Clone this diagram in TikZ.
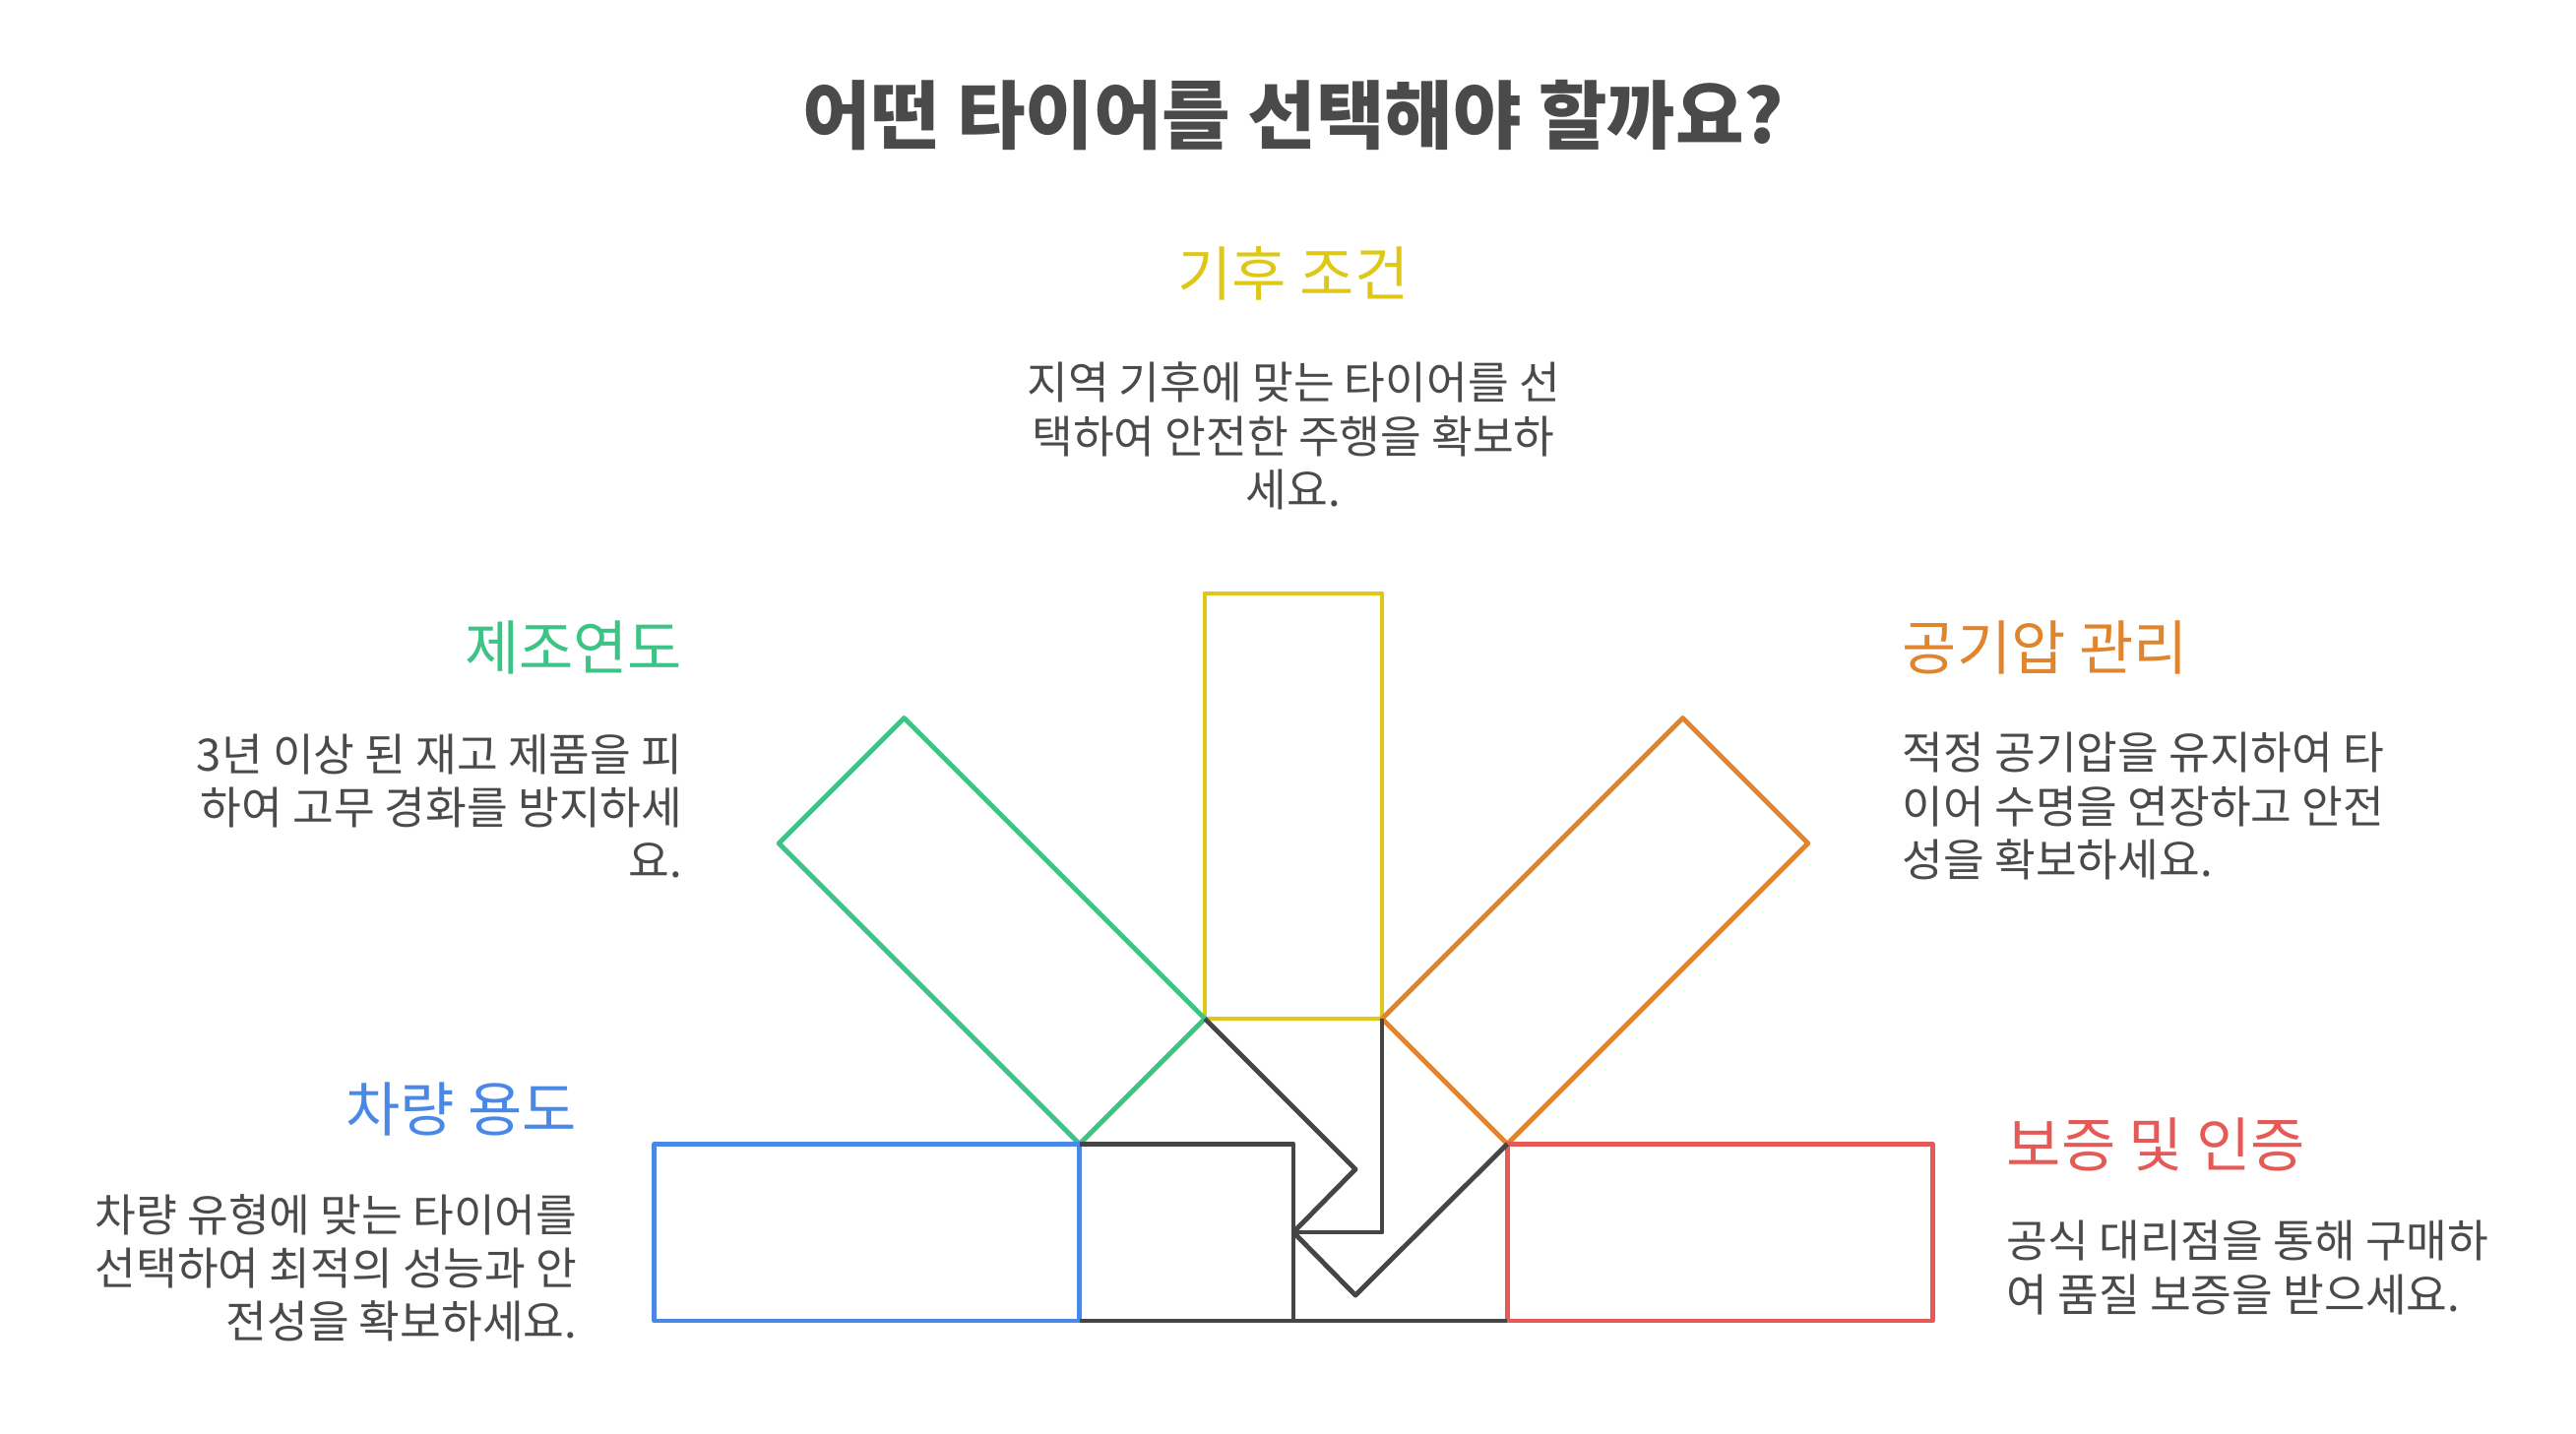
\documentclass[tikz,border=0pt]{standalone}
\usepackage{fontspec}
\setmainfont{Noto Sans CJK KR}
\usepackage{tikz}
\definecolor{inkgray}{HTML}{4A4A4A}
\definecolor{linegray}{HTML}{454545}
\definecolor{climateC}{HTML}{DEC815}
\definecolor{yearC}{HTML}{3DC385}
\definecolor{pressureC}{HTML}{E0842E}
\definecolor{usageC}{HTML}{4A88E6}
\definecolor{warrantyC}{HTML}{E55A57}
\newcommand{\headfont}{\fontsize{17.1}{21}\selectfont}
\newcommand{\bodyfont}{\fontsize{12.9}{15.4}\selectfont}

\begin{document}
\begin{tikzpicture}[x=0.01cm, y=-0.01cm,
    heading/.style={font=\headfont, inner sep=0pt},
    body/.style={font=\bodyfont, text=inkgray, inner sep=0pt},
    box/.style={line width=1.4pt, line join=round},
    link/.style={line width=1.4pt, draw=linegray, line join=round}]
    \useasboundingbox (0,0) rectangle (2617,1456);

    \node (title) [font=\fontsize{21.5}{26}\selectfont\bfseries, text=inkgray] at (1314,117)
        {어떤 타이어를 선택해야 할까요?};

    \coordinate (A) at (1224,1035);
    \coordinate (E) at (1404,1035);
    \coordinate (B) at (1096.7,1162.3);
    \coordinate (F) at (1531.3,1162.3);
    \coordinate (P) at (1314,1252);

    \draw[box, draw=climateC] (1224,603) rectangle (E);
    \draw[box, draw=yearC] (A) -- (B) -- (791.2,856.8) -- (918.5,729.5) -- cycle;
    \draw[box, draw=pressureC] (E) -- (F) -- (1836.8,856.8) -- (1709.5,729.5) -- cycle;
    \draw[box, draw=usageC] (664.7,1162.3) rectangle (1096.7,1342);
    \draw[box, draw=warrantyC] (F) rectangle (1963.3,1342);

    \draw[link] (B) -- (1314,1162.3) -- (1314,1342);
    \draw[link] (1096.7,1342) -- (F |- 0,1342);
    \draw[link] (A) -- (1377,1188) -- (P);
    \draw[link] (E) -- (E |- P) -- (P);
    \draw[link] (P) -- (1377,1316) -- (F);

    \node (climate) [heading, text=climateC] at (1314,278) {기후 조건};
    \node (climateText) [body, align=center] at (1314,443)
        {지역 기후에 맞는 타이어를 선\\택하여 안전한 주행을 확보하\\세요.};

    \node (year) [heading, text=yearC, anchor=east] at (694,658) {제조연도};
    \node (yearText) [body, align=right, anchor=east] at (694,819)
        {3년 이상 된 재고 제품을 피\\하여 고무 경화를 방지하세\\요.};

    \node (pressure) [heading, text=pressureC, anchor=west] at (1932,658) {공기압 관리};
    \node (pressureText) [body, align=left, anchor=west] at (1932,819)
        {적정 공기압을 유지하여 타\\이어 수명을 연장하고 안전\\성을 확보하세요.};

    \node (usage) [heading, text=usageC, anchor=east] at (587,1127) {차량 용도};
    \node (usageText) [body, align=right, anchor=east] at (587,1288)
        {차량 유형에 맞는 타이어를\\선택하여 최적의 성능과 안\\전성을 확보하세요.};

    \node (warranty) [heading, text=warrantyC, anchor=west] at (2038,1163) {보증 및 인증};
    \node (warrantyText) [body, align=left, anchor=west] at (2038,1288)
        {공식 대리점을 통해 구매하\\여 품질 보증을 받으세요.};

\end{tikzpicture}
\end{document}
